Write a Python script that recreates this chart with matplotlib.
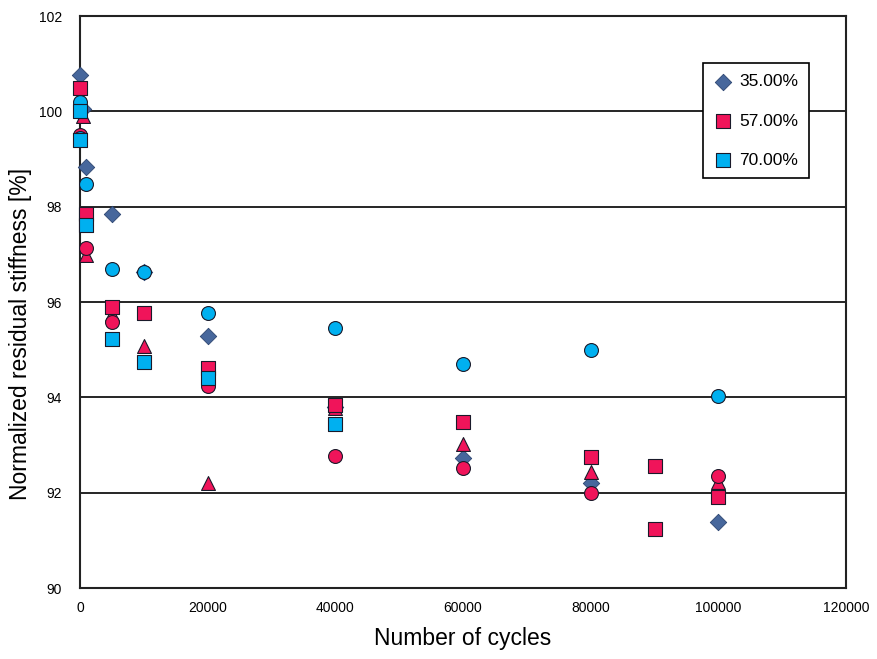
import matplotlib
matplotlib.use('Agg')
import matplotlib.pyplot as plt

plt.rcParams['font.family'] = ['Liberation Sans', 'DejaVu Sans']

# 35% (diamonds)
x_35 = [0, 500, 1000, 5000, 10000, 20000, 40000, 60000, 80000, 100000]
y_35 = [100.76, 100.05, 98.83, 97.85, 96.62, 95.29, 93.80, 92.72, 92.21, 91.39]

# 57% (pink squares)
x_57 = [0, 1000, 5000, 10000, 20000, 40000, 60000, 80000, 90000, 90000, 100000]
y_57 = [100.49, 97.85, 95.90, 95.76, 94.61, 93.84, 93.49, 92.74, 92.56, 91.23, 91.90]

# 70% (cyan squares)
x_70 = [0, 0, 1000, 5000, 10000, 20000, 40000]
y_70 = [100.00, 99.40, 97.62, 95.22, 94.75, 94.40, 93.44]

# unlabelled series
x_tri = [500, 0, 1000, 5000, 10000, 20000, 40000, 60000, 80000, 100000]
y_tri = [99.90, 99.50, 96.99, 95.75, 95.08, 92.20, 93.78, 93.02, 92.44, 92.23]

x_circ_pink = [0, 1000, 5000, 20000, 40000, 60000, 80000, 100000]
y_circ_pink = [99.50, 97.13, 95.59, 94.24, 92.77, 92.51, 92.00, 92.35]

x_circ_cyan = [0, 0, 0, 1000, 5000, 10000, 20000, 40000, 60000, 80000, 100000]
y_circ_cyan = [100.20, 100.00, 99.45, 98.48, 96.69, 96.62, 95.78, 95.46, 94.70, 94.99, 94.03]

labels = ['35.00%', '57.00%', '70.00%']

pink = '#f0145a'
cyan = '#00b0f0'
steel = '#47679c'
edge = '#1a1a2a'

fig = plt.figure(figsize=(8.78, 6.59), dpi=100)
ax = fig.add_axes([0.0911, 0.1077, 0.8725, 0.868])

common = dict(linewidths=0.8, clip_on=False)
ax.scatter(x_35, y_35, marker='D', s=70, color=steel, edgecolors='#2c4470',
           linewidths=0.6, clip_on=False, zorder=3, label=labels[0])
ax.scatter(x_tri, y_tri, marker='^', s=100, color=pink, edgecolors=edge, zorder=4, **common)
ax.scatter(x_circ_pink, y_circ_pink, marker='o', s=100, color=pink, edgecolors=edge, zorder=5, **common)
ax.scatter(x_circ_cyan, y_circ_cyan, marker='o', s=100, color=cyan, edgecolors=edge, zorder=5, **common)
ax.scatter(x_57, y_57, marker='s', s=95, color=pink, edgecolors=edge, zorder=6,
           label=labels[1], **common)
ax.scatter(x_70, y_70, marker='s', s=95, color=cyan, edgecolors=edge, zorder=7,
           label=labels[2], **common)

ax.set_xlim(0, 120000)
ax.set_ylim(90, 102)
ax.set_xticks(range(0, 120001, 20000))
ax.set_yticks(range(90, 103, 2))
ax.tick_params(length=0, labelsize=10)
ax.tick_params(axis='x', pad=9)
ax.tick_params(axis='y', pad=13)
ax.yaxis.grid(True, color='black', linewidth=1.2)
ax.set_axisbelow(True)
for sp in ax.spines.values():
    sp.set_linewidth(1.5)
    sp.set_color('#222222')
    sp.set_zorder(2)

ax.set_xlabel('Number of cycles', fontsize=16.5, labelpad=9)
ax.set_ylabel('Normalized residual stiffness [%]', fontsize=16.5)
ax.yaxis.set_label_coords(-0.063, 0.444)

leg = ax.legend(loc='upper right', bbox_to_anchor=(0.951, 0.917), fontsize=12.5,
                frameon=True, fancybox=False, framealpha=1, edgecolor='black',
                labelspacing=1.4, handletextpad=0.45, borderpad=0.6,
                handlelength=1.0, borderaxespad=0)
leg.get_frame().set_linewidth(1.2)
leg.set_zorder(10)

fig.savefig('out.png', dpi=100)
